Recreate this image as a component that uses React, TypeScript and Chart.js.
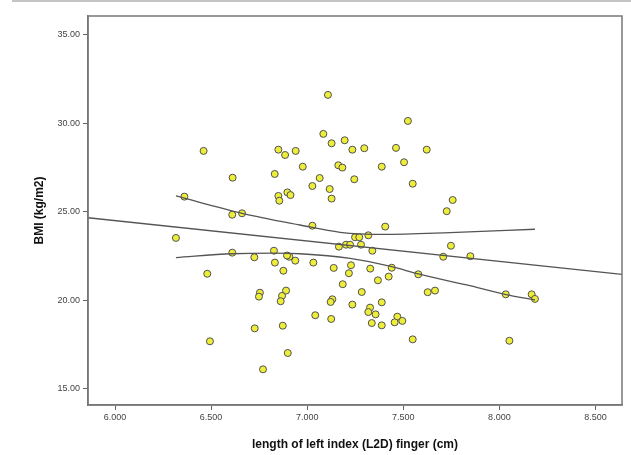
import React, { useEffect, useRef } from "react";
import { Chart, registerables } from "chart.js";

Chart.register(...registerables);

// Scatter points: finger length (cm) and BMI (kg/m2)
const fingerLength = [
  6.461, 6.612, 6.850, 6.885, 6.940, 6.977, 6.831, 6.850, 6.855, 6.897, 6.913, 6.361, 6.610, 6.661,
  7.108, 7.084, 7.127, 7.195, 7.235, 7.297, 7.462, 7.524, 7.622, 7.162, 7.183, 7.388, 7.504, 7.065,
  7.027, 7.117, 7.245, 7.549, 7.127, 7.027, 7.406, 7.757, 7.726,
  6.317, 6.610, 6.725, 6.827, 6.832, 6.907, 6.895, 6.938, 6.876, 6.480, 6.754, 6.749, 6.890, 6.869,
  6.862, 6.727, 6.873, 6.494, 6.899, 6.770,
  7.249, 7.271, 7.318, 7.165, 7.202, 7.223, 7.280, 7.339, 7.032, 7.138, 7.228, 7.217, 7.328, 7.440,
  7.424, 7.368, 7.578, 7.627, 7.185, 7.284, 7.131, 7.122, 7.235, 7.388, 7.327, 7.318, 7.356, 7.469,
  7.495, 7.455, 7.042, 7.125, 7.336, 7.388, 7.549,
  7.748, 7.708, 7.849, 7.665, 8.033, 8.168, 8.185, 8.052,
];
const bmi = [
  28.43, 26.92, 28.50, 28.20, 28.43, 27.54, 27.13, 25.89, 25.62, 26.09, 25.94, 25.85, 24.83, 24.91,
  31.59, 29.39, 28.86, 29.03, 28.50, 28.58, 28.60, 30.12, 28.50, 27.62, 27.49, 27.54, 27.79, 26.90,
  26.45, 26.28, 26.83, 26.58, 25.74, 24.21, 24.16, 25.66, 25.03,
  23.52, 22.69, 22.43, 22.80, 22.13, 22.46, 22.53, 22.24, 21.67, 21.50, 20.43, 20.21, 20.55, 20.25,
  19.95, 18.42, 18.57, 17.69, 17.03, 16.11,
  23.56, 23.56, 23.67, 23.03, 23.14, 23.14, 23.14, 22.80, 22.13, 21.83, 21.98, 21.53, 21.79, 21.84,
  21.34, 21.13, 21.47, 20.46, 20.91, 20.47, 20.06, 19.91, 19.76, 19.89, 19.59, 19.34, 19.21, 19.08,
  18.84, 18.76, 19.16, 18.95, 18.72, 18.59, 17.80,
  23.08, 22.46, 22.49, 20.55, 20.34, 20.34, 20.08, 17.72,
];

// Linear fit line (spans the whole x axis)
const fitX = [5.8595, 8.638];
const fitY = [24.66, 21.47];

// 95% confidence band for the mean
const upperBandX = [6.317, 6.661, 6.963, 7.171, 7.394, 7.743, 8.185];
const upperBandY = [25.89, 24.91, 24.25, 23.84, 23.72, 23.82, 24.01];
const lowerBandX = [6.317, 6.610, 6.827, 6.963, 7.223, 7.440, 7.578, 7.830, 8.029, 8.185];
const lowerBandY = [22.41, 22.63, 22.66, 22.63, 22.37, 21.90, 21.49, 20.87, 20.34, 20.02];

// Axis ticks
const xTicks = [6.0, 6.5, 7.0, 7.5, 8.0, 8.5];
const yTicks = [15, 20, 25, 30, 35];
const xRange = [5.8595, 8.638];
const yRange = [14.097, 36.04];

const xTitle = "length of left index (L2D) finger (cm)";
const yTitle = "BMI (kg/m2)";

const toPoints = (xs: number[], ys: number[]) => xs.map((x, i) => ({ x, y: ys[i] }));

const framePlugin = {
  id: "frame",
  afterDatasetsDraw(chart: any) {
    const { ctx, chartArea } = chart;
    ctx.save();
    ctx.strokeStyle = "#777777";
    ctx.lineWidth = 1.5;
    ctx.strokeRect(chartArea.left, chartArea.top, chartArea.right - chartArea.left, chartArea.bottom - chartArea.top);
    ctx.restore();
  },
};

export default function App() {
  const canvasRef = useRef<HTMLCanvasElement | null>(null);

  useEffect(() => {
    const canvas = canvasRef.current;
    if (!canvas) return;
    const lineStyle = {
      borderColor: "#555555",
      borderWidth: 1.3,
      pointRadius: 0,
      pointHoverRadius: 0,
      showLine: true,
      fill: false,
      order: 0,
    };
    const chart = new Chart(canvas, {
      type: "scatter",
      data: {
        datasets: [
          { ...lineStyle, type: "line", data: toPoints(fitX, fitY), tension: 0 } as any,
          { ...lineStyle, type: "line", data: toPoints(upperBandX, upperBandY), cubicInterpolationMode: "monotone" } as any,
          { ...lineStyle, type: "line", data: toPoints(lowerBandX, lowerBandY), cubicInterpolationMode: "monotone" } as any,
          {
            type: "scatter",
            data: toPoints(fingerLength, bmi),
            backgroundColor: "rgb(238,238,58)",
            borderColor: "#505050",
            borderWidth: 1,
            pointRadius: 3.5,
            order: 1,
          },
        ],
      },
      options: {
        animation: false,
        responsive: false,
        maintainAspectRatio: false,
        layout: { padding: { left: 0, top: 16, right: 9, bottom: 0 } },
        plugins: { legend: { display: false }, tooltip: { enabled: false } },
        scales: {
          x: {
            type: "linear",
            min: xRange[0],
            max: xRange[1],
            afterBuildTicks: (scale: any) => {
              scale.ticks = xTicks.map((v) => ({ value: v }));
            },
            afterFit: (scale: any) => {
              scale.height = 50;
            },
            ticks: {
              callback: (v: any) => Number(v).toFixed(3),
              font: { family: "'Liberation Sans', Arial, sans-serif", size: 9 },
              color: "#444444",
              padding: 2,
              maxRotation: 0,
              autoSkip: false,
            },
            grid: { display: true, drawOnChartArea: false, drawTicks: true, tickLength: 5, tickColor: "#666666" },
            border: { display: true, color: "#777777", width: 1.5 },
            title: {
              display: true,
              text: xTitle,
              font: { family: "'Liberation Sans', Arial, sans-serif", size: 12, weight: "bold" },
              color: "#111111",
              padding: { top: 0, bottom: 3 },
            },
          },
          y: {
            type: "linear",
            min: yRange[0],
            max: yRange[1],
            afterBuildTicks: (scale: any) => {
              scale.ticks = yTicks.map((v) => ({ value: v }));
            },
            afterFit: (scale: any) => {
              scale.width = 88;
            },
            ticks: {
              callback: (v: any) => Number(v).toFixed(2),
              font: { family: "'Liberation Sans', Arial, sans-serif", size: 9 },
              color: "#444444",
              padding: 3,
              autoSkip: false,
            },
            grid: { display: true, drawOnChartArea: false, drawTicks: true, tickLength: 5, tickColor: "#666666" },
            border: { display: true, color: "#777777", width: 1.5 },
            title: {
              display: true,
              text: yTitle,
              font: { family: "'Liberation Sans', Arial, sans-serif", size: 12, weight: "bold" },
              color: "#111111",
              padding: { top: 32, bottom: 0 },
            },
          },
        },
      },
      plugins: [framePlugin],
    });
    return () => chart.destroy();
  }, []);

  return (
    <div style={{ position: "fixed", left: 0, top: 0, width: 631, height: 455, background: "#ffffff" }}>
      <div style={{ position: "absolute", left: 12, top: 0, width: 619, height: 2, background: "#c4c4c4" }} />
      <canvas ref={canvasRef} width={631} height={455} style={{ display: "block", width: 631, height: 455 }} />
    </div>
  );
}
